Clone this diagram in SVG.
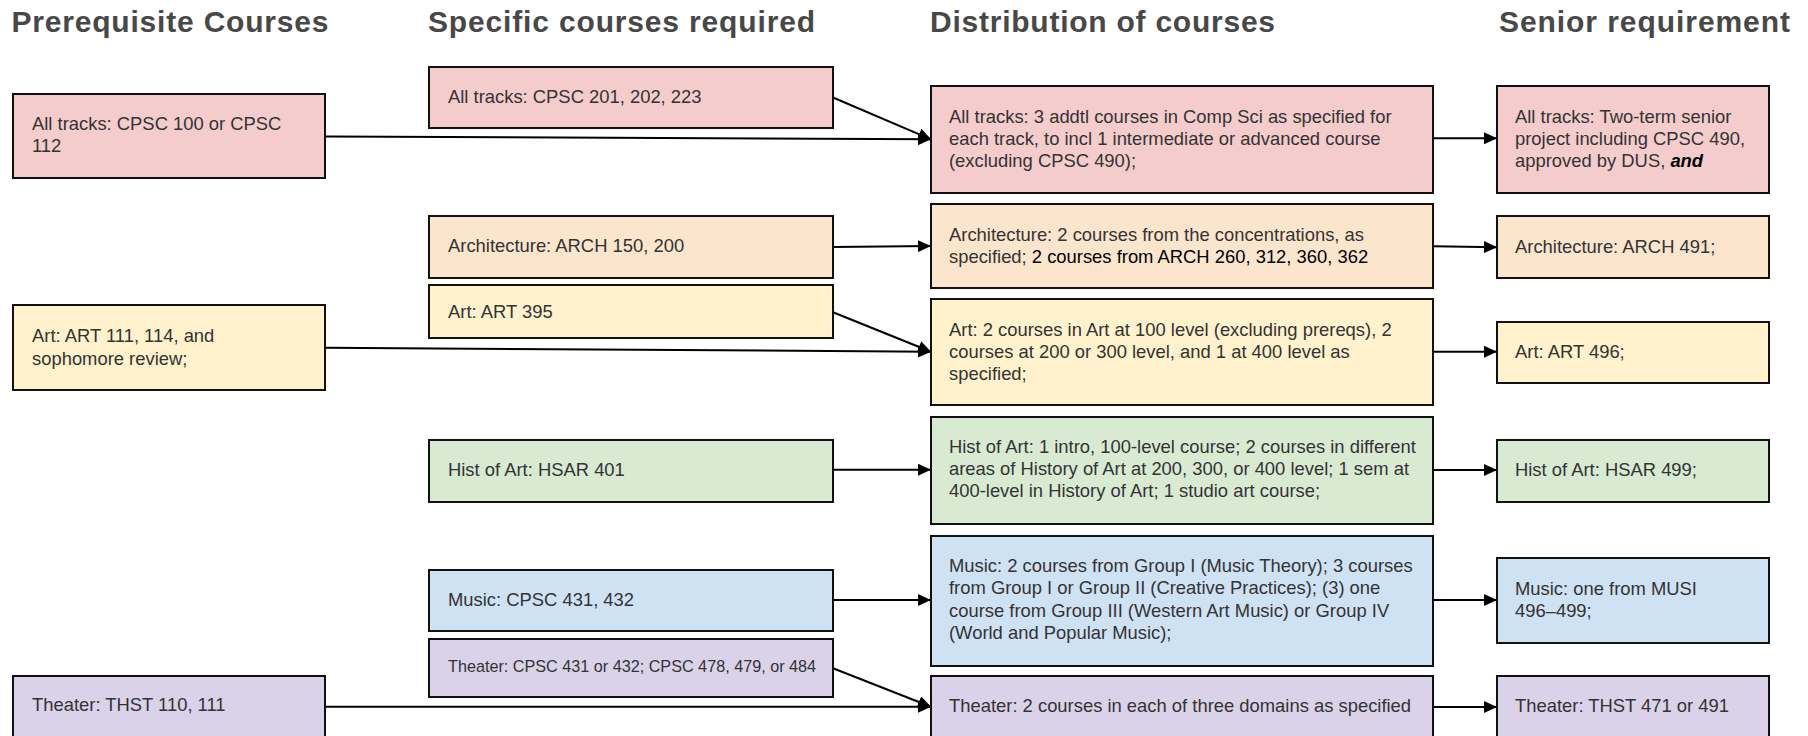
<svg xmlns="http://www.w3.org/2000/svg" width="1808" height="736" viewBox="0 0 1808 736">
<defs>
<style>
.title{font-family:"Liberation Sans",Arial,Helvetica,sans-serif;font-weight:bold;font-size:30px;fill:#484848}
.box{stroke:#111;stroke-width:2}
.t{font-family:"Liberation Sans",Arial,Helvetica,sans-serif;font-size:18.4px;fill:#333}
.ts{font-size:16.2px}
.k{fill:#000}
.red{fill:#f4cccc}
.org{fill:#fce5cd}
.yel{fill:#fff2cc}
.grn{fill:#d9ead3}
.blu{fill:#cfe2f3}
.pur{fill:#d9d2e9}
.edge{stroke:#000;stroke-width:2;fill:none;marker-end:url(#ah)}
</style>
<marker id="ah" markerUnits="userSpaceOnUse" markerWidth="14" markerHeight="12" refX="13" refY="6" orient="auto">
<path d="M0,0 L13,6 L0,12 z" fill="#000"/>
</marker>
</defs>
<rect width="1808" height="736" fill="#fff"/>

<g id="titles">
<text class="title" x="11.5" y="32" textLength="317">Prerequisite Courses</text>
<text class="title" x="428" y="32" textLength="387">Specific courses required</text>
<text class="title" x="930" y="32" textLength="345">Distribution of courses</text>
<text class="title" x="1499" y="32" textLength="291">Senior requirement</text>
</g>

<g id="connectors">
<line class="edge" x1="326" y1="136.5" x2="931" y2="139.3"/>
<line class="edge" x1="833" y1="97.5" x2="931" y2="139.3"/>
<line class="edge" x1="833" y1="247" x2="931" y2="246"/>
<line class="edge" x1="1433" y1="138.3" x2="1497" y2="138.3"/>
<line class="edge" x1="1433" y1="246.3" x2="1497" y2="247.3"/>
<line class="edge" x1="326" y1="347.7" x2="931" y2="351.7"/>
<line class="edge" x1="833" y1="312.3" x2="931" y2="351.7"/>
<line class="edge" x1="1433" y1="351.7" x2="1497" y2="351.7"/>
<line class="edge" x1="833" y1="469.7" x2="931" y2="469.7"/>
<line class="edge" x1="1433" y1="470" x2="1497" y2="470"/>
<line class="edge" x1="833" y1="600" x2="931" y2="600"/>
<line class="edge" x1="1433" y1="600" x2="1497" y2="600"/>
<line class="edge" x1="326" y1="706.7" x2="931" y2="706.7"/>
<line class="edge" x1="833" y1="668.3" x2="931" y2="706.7"/>
<line class="edge" x1="1433" y1="707" x2="1497" y2="707"/>
</g>

<g id="pre-all">
<rect class="box red" x="13" y="94" width="312" height="84"/>
<text class="t" x="32" y="130">All tracks: CPSC 100 or CPSC<tspan x="32" y="152">112</tspan></text>
</g>
<g id="pre-art">
<rect class="box yel" x="13" y="305" width="312" height="85"/>
<text class="t" x="32" y="342.3">Art: ART 111, 114, and<tspan x="32" y="364.5">sophomore review;</tspan></text>
</g>
<g id="pre-theater">
<rect class="box pur" x="13" y="676" width="312" height="64"/>
<text class="t" x="32" y="711.3">Theater: THST 110, 111</text>
</g>

<g id="spec-all">
<rect class="box red" x="429" y="67" width="404" height="61"/>
<text class="t" x="448" y="103">All tracks: CPSC 201, 202, 223</text>
</g>
<g id="spec-arch">
<rect class="box org" x="429" y="216" width="404" height="62"/>
<text class="t" x="448" y="252.3">Architecture: ARCH 150, 200</text>
</g>
<g id="spec-art">
<rect class="box yel" x="429" y="285" width="404" height="53"/>
<text class="t" x="448" y="318.3">Art: ART 395</text>
</g>
<g id="spec-hsar">
<rect class="box grn" x="429" y="440" width="404" height="62"/>
<text class="t" x="448" y="475.6">Hist of Art: HSAR 401</text>
</g>
<g id="spec-music">
<rect class="box blu" x="429" y="570" width="404" height="61"/>
<text class="t" x="448" y="606.3">Music: CPSC 431, 432</text>
</g>
<g id="spec-theater">
<rect class="box pur" x="429" y="639" width="404" height="58"/>
<text class="t ts" x="448" y="671.7">Theater: CPSC 431 or 432; CPSC 478, 479, or 484</text>
</g>

<g id="dist-all">
<rect class="box red" x="931" y="86" width="502" height="107"/>
<text class="t" x="949" y="123">All tracks: 3 addtl courses in Comp Sci as specified for<tspan x="949" y="145">each track, to incl 1 intermediate or advanced course</tspan><tspan x="949" y="167">(excluding CPSC 490);</tspan></text>
</g>
<g id="dist-arch">
<rect class="box org" x="931" y="204" width="502" height="84"/>
<text class="t" x="949" y="240.5">Architecture: 2 courses from the concentrations, as<tspan x="949" y="262.5">specified; <tspan class="k">2 courses from ARCH 260, 312, 360, 362</tspan></tspan></text>
</g>
<g id="dist-art">
<rect class="box yel" x="931" y="299" width="502" height="106"/>
<text class="t" x="949" y="335.5">Art: 2 courses in Art at 100 level (excluding prereqs), 2<tspan x="949" y="357.8">courses at 200 or 300 level, and 1 at 400 level as</tspan><tspan x="949" y="379.8">specified;</tspan></text>
</g>
<g id="dist-hsar">
<rect class="box grn" x="931" y="417" width="502" height="107"/>
<text class="t" x="949" y="453">Hist of Art: 1 intro, 100-level course; 2 courses in different<tspan x="949" y="475.2">areas of History of Art at 200, 300, or 400 level; 1 sem at</tspan><tspan x="949" y="497.4">400-level in History of Art; 1 studio art course;</tspan></text>
</g>
<g id="dist-music">
<rect class="box blu" x="931" y="536" width="502" height="130"/>
<text class="t" x="949" y="572">Music: 2 courses from Group I (Music Theory); 3 courses<tspan x="949" y="594.4">from Group I or Group II (Creative Practices); (3) one</tspan><tspan x="949" y="616.8">course from Group III (Western Art Music) or Group IV</tspan><tspan x="949" y="639">(World and Popular Music);</tspan></text>
</g>
<g id="dist-theater">
<rect class="box pur" x="931" y="676" width="502" height="64"/>
<text class="t" x="949" y="712">Theater: 2 courses in each of three domains as specified</text>
</g>

<g id="sen-all">
<rect class="box red" x="1497" y="86" width="272" height="107"/>
<text class="t" x="1515" y="123">All tracks: Two-term senior<tspan x="1515" y="145">project including CPSC 490,</tspan><tspan x="1515" y="167">approved by DUS, <tspan class="k" font-weight="bold" font-style="italic">and</tspan></tspan></text>
</g>
<g id="sen-arch">
<rect class="box org" x="1497" y="216" width="272" height="62"/>
<text class="t" x="1515" y="253">Architecture: ARCH 491;</text>
</g>
<g id="sen-art">
<rect class="box yel" x="1497" y="322" width="272" height="61"/>
<text class="t" x="1515" y="358">Art: ART 496;</text>
</g>
<g id="sen-hsar">
<rect class="box grn" x="1497" y="440" width="272" height="62"/>
<text class="t" x="1515" y="476.3">Hist of Art: HSAR 499;</text>
</g>
<g id="sen-music">
<rect class="box blu" x="1497" y="558" width="272" height="85"/>
<text class="t" x="1515" y="595.3">Music: one from MUSI<tspan x="1515" y="617">496–499;</tspan></text>
</g>
<g id="sen-theater">
<rect class="box pur" x="1497" y="676" width="272" height="64"/>
<text class="t" x="1515" y="712.3">Theater: THST 471 or 491</text>
</g>
</svg>
